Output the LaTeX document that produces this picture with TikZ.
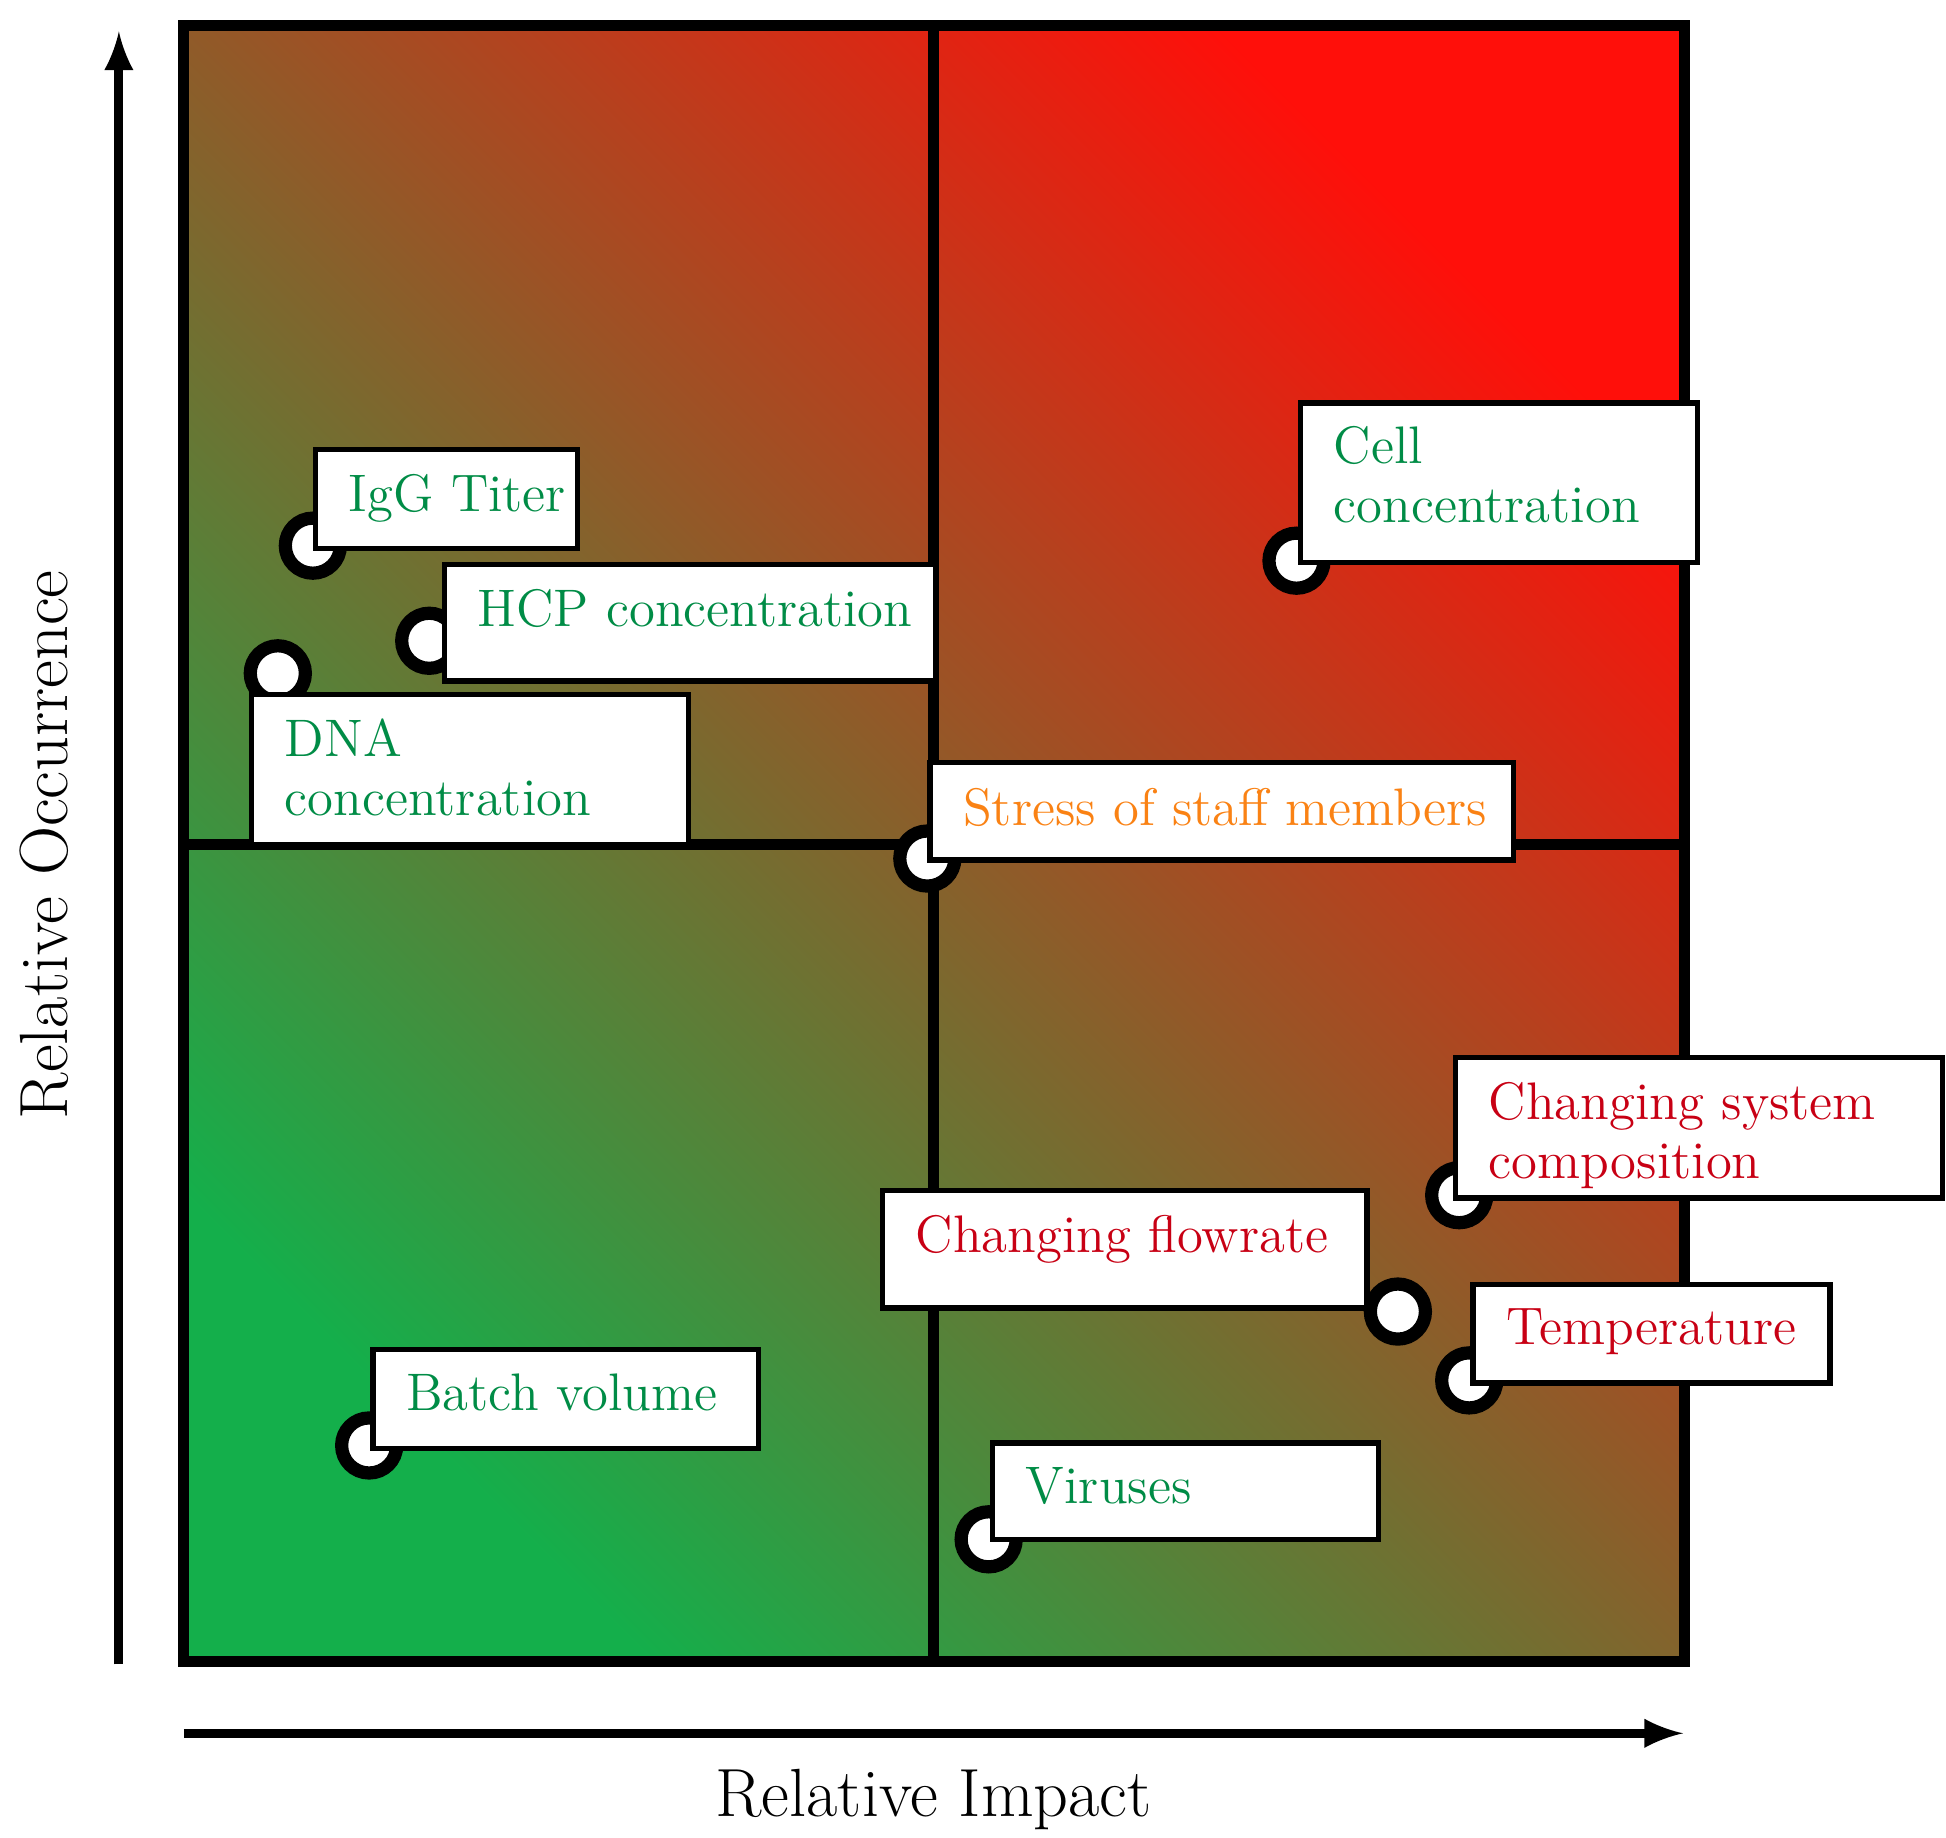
\documentclass[tikz,border=0pt]{standalone}
\begin{document}
\begin{tikzpicture}[x=0.01cm,y=-0.01cm,
  box/.style={draw=black,line width=1.2pt,fill=white,anchor=north west,inner sep=0pt},
  dot/.style={circle,draw=black,line width=3pt,fill=white,minimum size=0.44cm,inner sep=0pt},
  lbl/.style={anchor=north west,align=left,font=\fontsize{12}{13.4}\selectfont,inner sep=0pt},
  gr/.style={lbl,text={rgb,255:red,0;green,140;blue,70}},
  rd/.style={lbl,text={rgb,255:red,200;green,0;blue,20}},
  og/.style={lbl,text={rgb,255:red,250;green,130;blue,20}}]
\useasboundingbox (0,0) rectangle (1555,1468);
\definecolor{cg}{RGB}{20,175,75}
\definecolor{cm}{RGB}{178,135,60}
\definecolor{cr}{RGB}{255,15,10}
\shade[left color=cr,middle color=cm,right color=cg,shading angle=-45] (147,20) rectangle (1346,1328);
\draw[line width=2.5pt] (147,20) rectangle (1346,1328);
\draw[line width=2.5pt] (746,20) -- (746,1328);
\draw[line width=2.5pt] (147,675) -- (1346,675);
\coordinate (ya) at (95,1330); \coordinate (yb) at (95,25);
\coordinate (xa) at (147,1385); \coordinate (xb) at (1345,1385);
\draw[line width=2pt,-latex] (ya) -- (yb);
\draw[line width=2pt,-latex] (xa) -- (xb);
\node[rotate=90,font=\fontsize{15.5}{18}\selectfont] (yl) at (35,675) {Relative Occurrence};
\node[font=\fontsize{15.5}{18}\selectfont] (xl) at (746,1438) {Relative Impact};
% circles
\node[dot] (c1) at (250,436) {};
\node[dot] (c2) at (343,512) {};
\node[dot] (c3) at (222,538) {};
\node[dot] (c4) at (1036,448) {};
\node[dot] (c5) at (741,686) {};
\node[dot] (c6) at (1166,955) {};
\node[dot] (c7) at (1117,1048) {};
\node[dot] (c8) at (1174,1103) {};
\node[dot] (c9) at (295,1155) {};
\node[dot] (c10) at (790,1230) {};
% boxes
\node[box,minimum width=2.09cm,minimum height=0.79cm] (b1) at (250,357) {};
\node[box,minimum width=3.92cm,minimum height=0.93cm] (b2) at (353,449) {};
\node[box,minimum width=3.49cm,minimum height=1.20cm] (b3) at (199,553) {};
\node[box,minimum width=3.17cm,minimum height=1.27cm] (b4) at (1037,320) {};
\node[box,minimum width=4.66cm,minimum height=0.78cm] (b5) at (741,607) {};
\node[box,minimum width=3.89cm,minimum height=1.12cm] (b6) at (1161,843) {};
\node[box,minimum width=3.87cm,minimum height=0.94cm] (b7) at (703,949) {};
\node[box,minimum width=2.85cm,minimum height=0.79cm] (b8) at (1175,1024) {};
\node[box,minimum width=3.08cm,minimum height=0.79cm] (b9) at (296,1076) {};
\node[box,minimum width=3.08cm,minimum height=0.77cm] (b10) at (791,1151) {};
% texts
\node[gr] (t1) at (278,378) {IgG Titer};
\node[gr] (t2) at (381,470) {HCP concentration};
\node[gr] (t3) at (227,574) {DNA\\concentration};
\node[gr] (t4) at (1065,340) {Cell\\concentration};
\node[og] (t5) at (769,629) {Stress of staff members};
\node[rd] (t6) at (1189,864) {Changing system\\composition};
\node[rd] (t7) at (731,970) {Changing flowrate};
\node[rd] (t8) at (1203,1045) {Temperature};
\node[gr] (t9) at (324,1097) {Batch volume};
\node[gr] (t10) at (819,1172) {Viruses};
\end{tikzpicture}
\end{document}
